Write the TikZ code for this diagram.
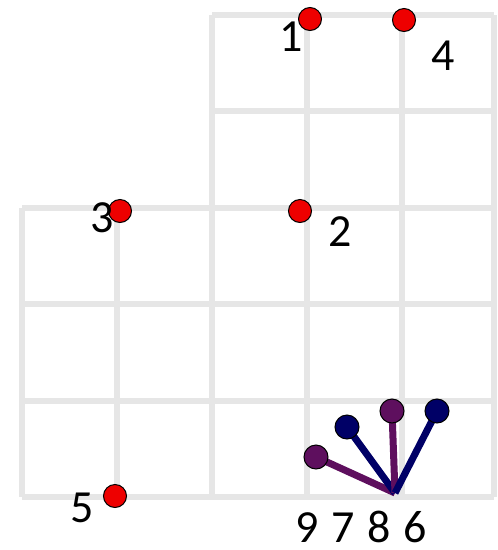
\documentclass[tikz,border=0pt]{standalone}
\usepackage{fontspec}
\setmainfont{Carlito}
\usetikzlibrary{backgrounds}
\definecolor{gridgray}{HTML}{E6E6E6}
\definecolor{dotred}{HTML}{EE0000}
\definecolor{fanpurple}{HTML}{5E0F5E}
\definecolor{fannavy}{HTML}{000066}

\begin{document}
\begin{tikzpicture}[
    x=1pt, y=-1pt,
    gridline/.style={draw=gridgray, line width=6pt},
    reddot/.style={circle, draw=black, line width=1pt, fill=dotred, minimum size=23pt, inner sep=0pt},
    fandot/.style={circle, draw=black, line width=1pt, minimum size=24pt, inner sep=0pt},
    fanline/.style={line width=7pt},
    every node/.style={font=\fontsize{46}{50}\selectfont}
]
  \useasboundingbox (0,0) rectangle (498,550);

  % red points
  \node[reddot] (p1) at (310,19) {};
  \node[reddot] (p2) at (300,211) {};
  \node[reddot] (p3) at (120,211) {};
  \node[reddot] (p4) at (404,20) {};
  \node[reddot] (p5) at (115,496) {};

  \node[inner sep=0pt] (l1) at (291,37) {1};
  \node[inner sep=0pt] (l2) at (340,232) {2};
  \node[inner sep=0pt] (l3) at (102,218) {3};
  \node[inner sep=0pt] (l4) at (443,56) {4};
  \node[inner sep=0pt] (l5) at (82,508) {5};

  % fan
  \coordinate (fan) at (395,493);
  \node[fandot, fill=fanpurple] (d9) at (316,457) {};
  \node[fandot, fill=fannavy] (d7) at (347,427) {};
  \node[fandot, fill=fanpurple] (d8) at (392,411) {};
  \node[fandot, fill=fannavy] (d6) at (437,411) {};

  \node[inner sep=0pt] (fanlabel) at (361,527) {9\hspace{0.28em}7\hspace{0.28em}8\hspace{0.28em}6};

  \begin{pgfonlayer}{background}
    % grid
    \foreach \y in {15,111} {
      \draw[gridline] (212,\y) -- (494,\y);
    }
    \foreach \y in {208,304,401,497} {
      \draw[gridline] (22,\y) -- (494,\y);
    }
    \foreach \x in {22,117} {
      \draw[gridline] (\x,208) -- (\x,497);
    }
    \foreach \x in {212,307,402,494} {
      \draw[gridline] (\x,15) -- (\x,497);
    }

    \draw[fanline, fanpurple] (fan) -- (d9.center);
    \draw[fanline, fannavy] (fan) -- (d7.center);
    \draw[fanline, fanpurple] (fan) -- (d8.center);
    \draw[fanline, fannavy] (fan) -- (d6.center);
  \end{pgfonlayer}
\end{tikzpicture}
\end{document}
